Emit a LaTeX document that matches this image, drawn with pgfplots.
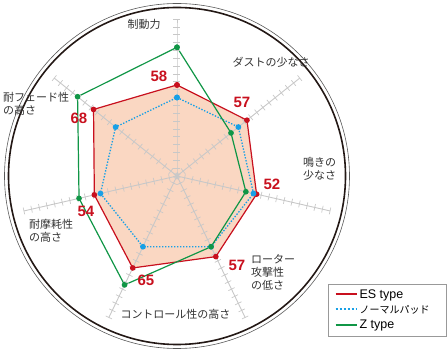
\documentclass[border=0pt]{standalone}
\usepackage{pgfplots}
\pgfplotsset{compat=1.18}
\usepgfplotslibrary{polar}
\usepackage{fontspec}
\setmainfont{Liberation Sans}
\newfontfamily\jp{Noto Sans CJK JP}
\definecolor{esred}{RGB}{200,16,30}
\definecolor{nblue}{RGB}{24,160,230}
\definecolor{zgreen}{RGB}{16,150,70}
\definecolor{peach}{RGB}{250,215,194}
\definecolor{spokegray}{RGB}{200,200,200}
\definecolor{txt}{RGB}{50,50,50}
\definecolor{ringdark}{RGB}{35,24,21}
\newcommand{\spoke}[1]{\addplot[forget plot, spokegray, line width=0.9pt, mark=|, mark size=3.5pt, mark options={rotate=#1, line width=0.7pt, solid}] coordinates {(#1,0) (#1,5) (#1,10) (#1,15) (#1,20) (#1,25) (#1,30) (#1,35) (#1,40) (#1,45) (#1,50) (#1,55) (#1,60) (#1,65) (#1,70) (#1,75) (#1,80) (#1,85) (#1,90) (#1,95) (#1,100)};}
\begin{document}
\begin{tikzpicture}
\begin{polaraxis}[
  hide axis, clip=false,
  scale only axis, width=314pt, height=314pt,
  ymin=0, ymax=100, xmin=0, xmax=360,
  legend style={at={(1.359,-0.0096)}, anchor=south east, draw=gray!80, fill=white,
    font=\fontsize{12.5}{14}\selectfont, row sep=1.5pt, inner xsep=6pt, inner ysep=3.5pt, cells={anchor=west}},
  legend image code/.code={\draw[#1, mark=none, line width=1.6pt] (0pt,0.5pt) -- (21pt,0.5pt);},
]
\addplot[forget plot, fill=peach, draw=none] coordinates {(90,58) (38.5714,57) (-12.8571,52) (-64.2857,57) (-115.7143,65) (-167.1429,54) (141.4286,68) (90,58)};
\spoke{90}
\spoke{38.5714}
\spoke{-12.8571}
\spoke{-64.2857}
\spoke{-115.7143}
\spoke{-167.1429}
\spoke{141.4286}
\addplot[esred, line width=1.2pt, mark=*, mark size=2.2pt] coordinates {(90,58) (38.5714,57) (-12.8571,52) (-64.2857,57) (-115.7143,65) (-167.1429,54) (141.4286,68) (90,58)};
\addlegendentry{ES type}
\addplot[nblue, line width=1.3pt, dash pattern=on 1.4pt off 1.6pt, mark=*, mark size=2.2pt, mark options={solid},
  legend image code/.code={\draw[nblue, line width=2pt, dash pattern=on 2.5pt off 1.5pt] (0pt,0.5pt) -- (21pt,0.5pt);}] coordinates {(90,50) (38.5714,50) (-12.8571,50) (-64.2857,50) (-115.7143,50) (-167.1429,50) (141.4286,50) (90,50)};
\addlegendentry{{\jp\fontsize{10}{12}\selectfont ノーマルパッド\hspace*{9pt}}}
\addplot[zgreen, line width=1.2pt, mark=*, mark size=2.2pt] coordinates {(90,82) (38.5714,44) (-12.8571,45) (-64.2857,50) (-115.7143,77) (-167.1429,64) (141.4286,81) (90,82)};
\addlegendentry{Z type}
\coordinate (C) at (axis cs:0,0);
\end{polaraxis}
\draw[ringdark, line width=1.6pt] (C) circle[radius=168.5pt];
\draw[black!65, line width=0.6pt] (C) circle[radius=172.5pt];
\begin{scope}[shift={(C)}, xshift=-177pt, yshift=-178pt, x=1pt, y=1pt]
\path[use as bounding box] (0,0) rectangle (448,354);
\begin{scope}[every node/.style={text=txt, font=\jp\fontsize{11}{13}\selectfont, inner sep=0pt}]
\node at (144,330) {制動力};
\node at (271,292) {ダストの少なさ};
\node[anchor=west, align=left] at (303,185.5) {鳴きの\\少なさ};
\node[anchor=west, align=left] at (251,81.5) {ローター\\攻撃性\\の低さ};
\node at (175.5,40) {コントロール性の高さ};
\node[anchor=west, align=left] at (29,123) {耐摩耗性\\の高さ};
\node[anchor=west, align=left] at (3,250) {耐フェード性\\の高さ};
\end{scope}
\begin{scope}[every node/.style={text=esred, font=\bfseries\fontsize{15}{15}\selectfont, inner sep=0pt}]
\node at (159,278) {58};
\node at (242,252) {57};
\node at (272,170) {52};
\node at (237,89) {57};
\node at (146,74) {65};
\node at (86,143) {54};
\node at (79,236) {68};
\end{scope}
\end{scope}
\end{tikzpicture}
\end{document}
